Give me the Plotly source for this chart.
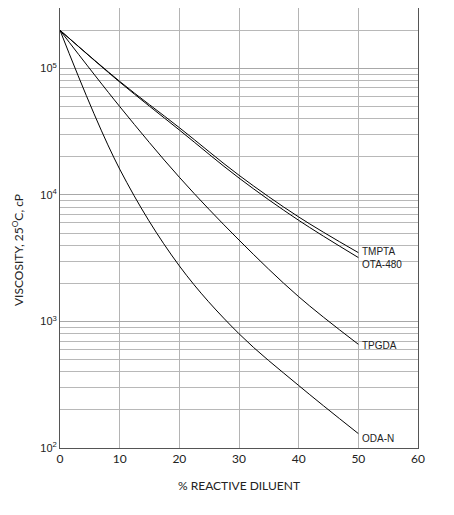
import math
import plotly.graph_objects as go

# % reactive diluent
diluent = [0, 10, 20, 30, 40, 50]

# viscosity at 25 C, cP
tmpta = [200000, 79000, 34000, 14300, 6700, 3500]
ota_480 = [200000, 78000, 32600, 13600, 6300, 3200]
tpgda = [200000, 50000, 13800, 4400, 1570, 660]
oda_n = [200000, 16000, 2750, 800, 312, 130]

series = {"TMPTA": tmpta, "OTA-480": ota_480, "TPGDA": tpgda, "ODA-N": oda_n}
label_shift = {"TMPTA": 1, "OTA-480": -7, "TPGDA": -1, "ODA-N": -5}

# decades get labels, every other log step only a grid line
decade_vals = [100, 1000, 10000, 100000]
decade_text = ["10<sup>2</sup>", "10<sup>3</sup>", "10<sup>4</sup>", "10<sup>5</sup>"]
minor_vals = [m * 10 ** e for e in range(2, 6) for m in range(2, 10)]

fig = go.Figure()
for name, vals in series.items():
    fig.add_trace(go.Scatter(x=diluent, y=vals, mode="lines", name=name,
                             line=dict(color="black", width=1, shape="spline", smoothing=1)))
    fig.add_annotation(x=diluent[-1], y=math.log10(vals[-1]), text=name,
                       showarrow=False, xanchor="left", xshift=2, yshift=label_shift[name],
                       font=dict(size=10, color="#222", family="Liberation Sans"))

# y title as an annotation so it sits where the original has it
fig.add_annotation(xref="paper", yref="paper", x=0, y=0.45, xshift=-52,
                   text="VISCOSITY, 25<sup>O</sup>C, cP", textangle=-90, showarrow=False,
                   font=dict(size=12, color="#222", family="Lato"))

fig.update_layout(
    width=454, height=515,
    margin=dict(l=52, r=44, t=0, b=75),
    plot_bgcolor="white", paper_bgcolor="white",
    showlegend=False,
    font=dict(family="Lato", color="#222"),
)
fig.update_xaxes(
    range=[0, 60], dtick=10, showgrid=True, gridcolor="#b4b4b4", gridwidth=1,
    showline=True, linecolor="#555", linewidth=1, mirror=True, zeroline=False,
    ticks="", tickfont=dict(size=12), automargin=False,
    title=dict(text="% REACTIVE DILUENT", font=dict(size=12), standoff=16),
)
fig.update_yaxes(
    type="log", range=[2, math.log10(300000)],
    tickmode="array", tickvals=decade_vals, ticktext=decade_text,
    showgrid=True, gridcolor="#a8a8a8", gridwidth=1,
    minor=dict(tickmode="array", tickvals=minor_vals, showgrid=True,
               gridcolor="#b8b8b8", gridwidth=1, ticks=""),
    showline=True, linecolor="#555", linewidth=1, mirror=True, zeroline=False,
    ticks="", tickfont=dict(size=11, family="Liberation Sans"), automargin=False,
)

fig.write_html("out.html")
